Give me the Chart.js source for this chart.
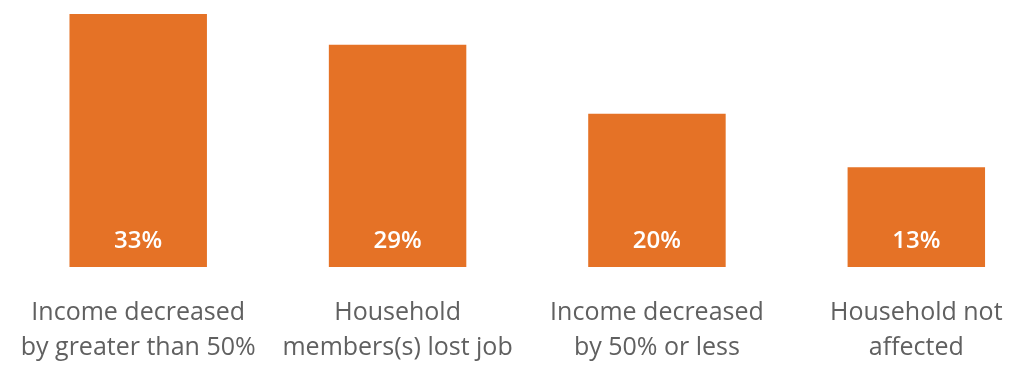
<!DOCTYPE html>
<html>
<head>
<meta charset="utf-8">
<script src="https://cdn.jsdelivr.net/npm/chart.js@4"></script>
<style>
  html, body { margin: 0; padding: 0; background: #fff; overflow: hidden; }
  #wrap { width: 1050px; height: 365px; }
</style>
</head>
<body>
<div id="wrap"><canvas id="impactChart"></canvas></div>
<script>
const categories = [
    ['Income decreased', 'by greater than 50%'],
    ['Household', 'members(s) lost job'],
    ['Income decreased', 'by 50% or less'],
    ['Household not', 'affected']
]
const shares = [33, 29, 20, 13]

const barColor = '#E57226'
const labelColor = '#606060'

// white percentage written near the foot of each bar
const barValues = {
    id: 'barValues',
    afterDatasetsDraw(chart) {
        const ctx = chart.ctx
        const meta = chart.getDatasetMeta(0)
        ctx.save()
        ctx.fillStyle = '#fff'
        ctx.font = '600 24px "Open Sans"'
        ctx.textAlign = 'center'
        ctx.textBaseline = 'middle'
        meta.data.forEach((bar, i) => {
            ctx.fillText(shares[i] + '%', bar.x, bar.base - 26)
        })
        ctx.restore()
    }
}

new Chart(document.getElementById('impactChart'), {
    type: 'bar',
    data: {
        labels: categories,
        datasets: [{
            data: shares,
            backgroundColor: barColor,
            borderWidth: 0,
            barPercentage: 0.53,
            categoryPercentage: 1
        }]
    },
    options: {
        responsive: true,
        maintainAspectRatio: false,
        animation: false,
        layout: { padding: { left: 6, right: 4, top: 14, bottom: 0 } },
        plugins: { legend: { display: false }, tooltip: { enabled: false } },
        scales: {
            y: { display: false, min: 0, max: 33 },
            x: {
                grid: { display: false },
                border: { display: false },
                afterFit(scale) { scale.height = 98 },
                ticks: {
                    color: labelColor,
                    padding: 20,
                    maxRotation: 0,
                    autoSkip: false,
                    font: { family: 'Open Sans', size: 25, lineHeight: 1.4 }
                }
            }
        }
    },
    plugins: [barValues]
})
</script>
</body>
</html>
